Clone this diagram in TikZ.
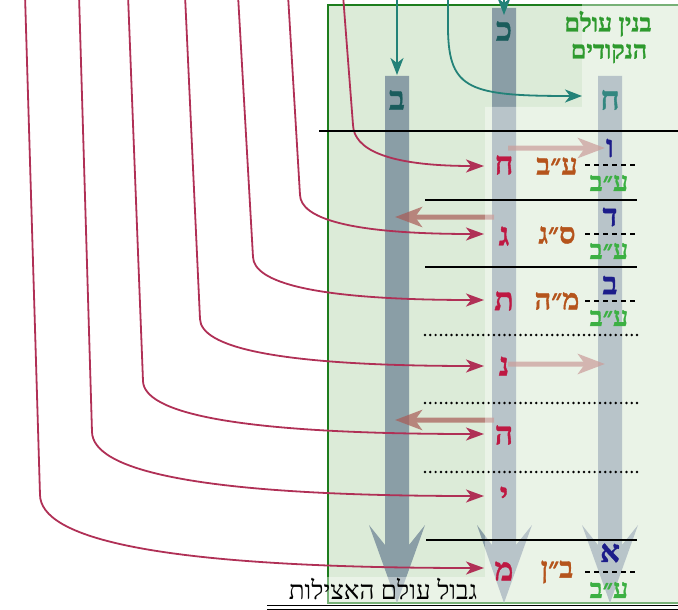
\documentclass[tikz,border=0pt]{standalone}
\usepackage{fontspec}
\usetikzlibrary{arrows.meta}
\TeXXeTstate=1
\newfontfamily\hebfont[Script=Hebrew]{Liberation Serif}
\newfontfamily\hebb[Script=Hebrew,FakeBold=1.2]{Liberation Serif Bold}
\newcommand{\hb}[1]{{\beginR #1\endR}}
\definecolor{crim}{RGB}{176,48,86}
\definecolor{letcrim}{RGB}{190,24,66}
\definecolor{brownlab}{RGB}{181,84,28}
\definecolor{navylet}{RGB}{28,28,138}
\definecolor{greenlab}{RGB}{60,176,67}
\definecolor{tealarr}{RGB}{35,130,120}
\definecolor{tealdark}{RGB}{26,92,92}
\definecolor{tealmid}{RGB}{50,135,128}
\definecolor{bgdark}{RGB}{220,235,216}
\definecolor{borderg}{RGB}{29,125,29}
\definecolor{barc}{RGB}{138,158,166}
\definecolor{palec}{RGB}{168,91,85}
\definecolor{titleg}{RGB}{46,154,46}
\begin{document}
\begin{tikzpicture}[x=1pt,y=-1pt,
  crimarrow/.style={draw=crim, line width=1.8pt, -{Stealth[length=18pt,width=13pt,inset=5pt]}},
  tealarrow/.style={draw=tealarr, line width=1.8pt, -{Stealth[length=17pt,width=13pt,inset=5pt]}},
  palearrow/.style={draw=palec, line width=5pt, -{Stealth[length=27pt,width=20pt,inset=7pt]}},
  midlet/.style={text=letcrim, inner sep=0pt, font=\hebb\fontsize{32}{32}\selectfont},
  toplet/.style={inner sep=0pt, font=\hebb\fontsize{33}{33}\selectfont},
  navlet/.style={text=navylet, inner sep=0pt, font=\hebb\fontsize{31}{31}\selectfont},
  brlab/.style={text=brownlab, inner sep=0pt, font=\hebb\fontsize{29}{29}\selectfont},
  grlab/.style={text=greenlab, inner sep=0pt, font=\hebb\fontsize{27}{27}\selectfont},
  titlab/.style={text=titleg, inner sep=0pt, text height=12pt, text depth=3pt, font=\hebb\fontsize{25}{25}\selectfont},
  solidrule/.style={draw=black, line width=2pt},
  dotrule/.style={draw=black, line width=2.7pt, line cap=round, dash pattern=on 0pt off 5.3pt},
  dashrule/.style={draw=black, line width=1.7pt, dash pattern=on 5pt off 4pt},
  bar/.style={fill=barc}
]
\useasboundingbox (0,0) rectangle (678,610);
% world box
\draw[fill=bgdark, draw=borderg, line width=2pt] (328,5) rectangle (700,603);
% column bars
\fill[bar] (385,76) -- (409,76) -- (409,545) -- (425,525) -- (397,603) -- (369,525) -- (385,545) -- cycle;
\fill[bar] (492,8) -- (516,8) -- (516,545) -- (532,525) -- (504,603) -- (477,525) -- (492,545) -- cycle;
\fill[bar] (598,76) -- (622,76) -- (622,545) -- (638,525) -- (610,603) -- (582,525) -- (598,545) -- cycle;
% teal arrows
\coordinate (s1) at (397,-5);
\coordinate (s2) at (504,-5);
\coordinate (s3) at (448,-5);
\coordinate (e1) at (397,75);
\coordinate (e2) at (504,15);
\coordinate (e3) at (582,96);
\draw[tealarrow] (s1) -- (e1);
\draw[tealarrow] (s2) -- (e2);
\draw[tealarrow] (s3) -- (448,30) .. controls (449,90) and (470,96) .. (e3);
% crimson curves
\foreach \xs/\xb/\yb/\yt/\n in {343/353/125/166/1, 288/300/195/234/2, 238/253/257/300/3, 185/200/319/366/4, 128/143/381/434/5, 79/92/432/496/6, 25/40/495/568/7}{
  \coordinate (cs\n) at (\xs,-5);
  \coordinate (ct\n) at (484,\yt);
  \pgfmathsetmacro{\ya}{\yt-0.42*(\yt-\yb)}
  \pgfmathsetmacro{\xc}{\xb+0.25*(484-\xb)}
  \draw[crimarrow] (cs\n) -- (\xb,\yb) .. controls (\xb+1,\ya) and (\xc,\yt) .. (ct\n);
}
% pale arrows
\coordinate (p1a) at (508,148); \coordinate (p1b) at (605,148);
\coordinate (p2a) at (494,217); \coordinate (p2b) at (395,217);
\coordinate (p3a) at (508,364); \coordinate (p3b) at (605,364);
\coordinate (p4a) at (494,420); \coordinate (p4b) at (395,420);
\begin{scope}[transparency group, opacity=0.7]
\draw[palearrow] (p1a) -- (p1b);
\end{scope}
\begin{scope}[transparency group, opacity=0.7]
\draw[palearrow] (p2a) -- (p2b);
\end{scope}
\begin{scope}[transparency group, opacity=0.7]
\draw[palearrow] (p3a) -- (p3b);
\end{scope}
\begin{scope}[transparency group, opacity=0.7]
\draw[palearrow] (p4a) -- (p4b);
\end{scope}
% light overlay
\fill[white, fill opacity=0.4] (582,3) -- (700,3) -- (700,605) -- (326,605) -- (326,577) -- (485,577) -- (485,107) -- (582,107) -- cycle;
% rules
\draw[solidrule, line width=2.4pt] (319,131) -- (700,131);
\draw[solidrule] (425,200) -- (637,200);
\draw[solidrule] (425,267) -- (637,267);
\draw[solidrule] (426,540) -- (637,540);
\draw[dotrule] (425,335) -- (637,335);
\draw[dotrule] (425,403) -- (637,403);
\draw[dotrule] (425,472) -- (637,472);
\draw[dashrule] (585,165) -- (637,165);
\draw[dashrule] (585,234) -- (637,234);
\draw[dashrule] (585,301) -- (637,301);
\draw[dashrule] (585,572) -- (637,572);
\draw[black, line width=0.9pt] (267,605.5) -- (700,605.5);
\draw[black, line width=0.9pt] (267,609) -- (700,609);
% top letters
\node[toplet, text=tealdark] (kaf) at (504,31) {\hb{כ}};
\node[toplet, text=tealdark] (bet) at (397,100) {\hb{ב}};
\node[toplet, text=tealmid] (het) at (610,100) {\hb{ח}};
\node[titlab] (title1) at (608,27) {\hb{בנין עולם}};
\node[titlab] (title2) at (609,54) {\hb{הנקודים}};
% middle column letters
\node[midlet] (m1) at (504,165) {\hb{ח}};
\node[midlet] (m2) at (504,236) {\hb{ג}};
\node[midlet] (m3) at (504,301) {\hb{ת}};
\node[midlet] (m4) at (504,366) {\hb{נ}};
\node[midlet] (m5) at (504,435) {\hb{ה}};
\node[midlet] (m6) at (504,496) {\hb{י}};
\node[midlet] (m7) at (504,571) {\hb{מ}};
% brown labels
\node[brlab] (b1) at (557,166) {\hb{ע״ב}};
\node[brlab] (b2) at (557,235) {\hb{ס״ג}};
\node[brlab] (b3) at (557,301) {\hb{מ״ה}};
\node[brlab] (b4) at (557,572) {\hb{ב״ן}};
% right column letters
\node[navlet] (r1) at (610,148) {\hb{ו}};
\node[navlet] (r2) at (610,217) {\hb{ד}};
\node[navlet] (r3) at (610,285) {\hb{ב}};
\node[navlet] (r4) at (610,553) {\hb{א}};
% green labels
\node[grlab] (g1) at (609,183) {\hb{ע״ב}};
\node[grlab] (g2) at (609,251) {\hb{ע״ב}};
\node[grlab] (g3) at (609,318) {\hb{ע״ב}};
\node[grlab] (g4) at (609,590) {\hb{ע״ב}};
% bottom label
\node[inner sep=0pt, font=\hebfont\fontsize{26}{26}\selectfont] (border) at (383,589) {\hb{גבול עולם האצילות}};
\end{tikzpicture}
\end{document}
